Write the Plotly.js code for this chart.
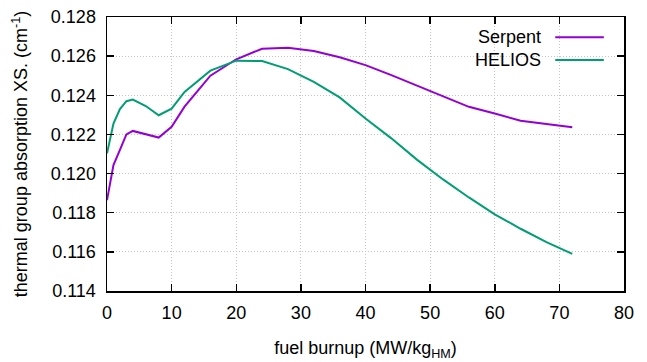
<!DOCTYPE html>
<html>
<head>
<meta charset="utf-8">
<script src="https://cdn.plot.ly/plotly-3.0.1.min.js"></script>
<style>html,body{margin:0;padding:0;background:#fff;}#chart{width:647px;height:362px;}</style>
</head>
<body>
<div id="chart"></div>
<script>
const burnup = [0, 1, 2, 3, 4, 6, 8, 10, 12, 14, 16, 20, 24, 28, 32, 36, 40, 44, 48, 52, 56, 60, 64, 68, 72];
const serpent = [0.11864, 0.12043, 0.12121, 0.12200, 0.12218, 0.12201, 0.12184, 0.12239, 0.12342, 0.12421, 0.12500, 0.12584, 0.12638, 0.12643, 0.12626, 0.12594, 0.12554, 0.12503, 0.12449, 0.12392, 0.12341, 0.12307, 0.12270, 0.12253, 0.12237];
const helios = [0.12103, 0.12256, 0.12330, 0.12370, 0.12378, 0.12345, 0.12298, 0.12332, 0.12417, 0.12472, 0.12526, 0.12577, 0.12575, 0.12534, 0.12469, 0.12389, 0.12281, 0.12180, 0.12070, 0.11970, 0.11878, 0.11792, 0.11718, 0.11650, 0.11590];
const seriesNames = ["Serpent", "HELIOS"];
const xTicks = [0, 10, 20, 30, 40, 50, 60, 70, 80];
const yTicks = [0.114, 0.116, 0.118, 0.120, 0.122, 0.124, 0.126, 0.128];

const colors = ["#9400D3", "#009E73"];
const FONT = "Liberation Sans, Arial, Helvetica, sans-serif";
const FS = 18;

const traces = [serpent, helios].map((ys, i) => ({
  x: burnup, y: ys, type: "scatter", mode: "lines",
  name: seriesNames[i], line: {color: colors[i], width: 2}, showlegend: false
}));

// gnuplot-style legend: right-aligned text followed by line sample
const legendY = [0.926, 0.843];
const annotations = seriesNames.map((n, i) => ({
  text: n, xref: "paper", yref: "paper", x: 0.843, y: legendY[i],
  xanchor: "right", yanchor: "middle", showarrow: false,
  font: {family: FONT, size: FS, color: "#000"}
}));
const shapes = seriesNames.map((n, i) => ({
  type: "line", xref: "paper", yref: "paper",
  x0: 0.867, x1: 0.961, y0: legendY[i], y1: legendY[i],
  line: {color: colors[i], width: 2}
}));

const axisCommon = {
  showline: true, linecolor: "#000", linewidth: 1.5, mirror: "ticks",
  ticks: "inside", ticklen: 7, tickwidth: 1.5, tickcolor: "#000",
  showgrid: true, gridcolor: "#c4c4c4", gridwidth: 1, griddash: "1px,2px",
  zeroline: false, tickfont: {family: FONT, size: FS, color: "#000"}
};

const layout = {
  width: 647, height: 362,
  margin: {l: 107, r: 23, t: 17, b: 71},
  paper_bgcolor: "#fff", plot_bgcolor: "#fff",
  font: {family: FONT, size: FS, color: "#000"},
  xaxis: Object.assign({}, axisCommon, {
    range: [0, 80], tickvals: xTicks, ticktext: xTicks.map(String),
    ticklabelstandoff: 5, automargin: false,
    title: {text: "fuel burnup (MW/kg<sub>HM</sub>)", font: {family: FONT, size: FS}, standoff: 19}
  }),
  yaxis: Object.assign({}, axisCommon, {
    range: [0.114, 0.128], tickvals: yTicks, ticktext: yTicks.map(v => v.toFixed(3)),
    ticklabelstandoff: 6, automargin: false,
    title: {text: "thermal group absorption XS. (cm<sup>-1</sup>)", font: {family: FONT, size: FS}, standoff: 18}
  }),
  annotations: annotations,
  shapes: shapes
};

Plotly.newPlot("chart", traces, layout, {staticPlot: true, displayModeBar: false});
</script>
</body>
</html>
